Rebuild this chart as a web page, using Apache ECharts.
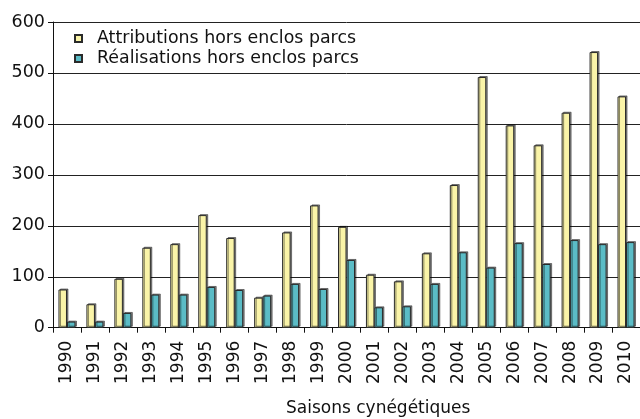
<!DOCTYPE html>
<html>
<head>
<meta charset="utf-8">
<script src="https://cdn.jsdelivr.net/npm/echarts@6/dist/echarts.min.js"></script>
<style>
  html, body { margin: 0; padding: 0; background: #fff; }
  #chart { width: 640px; height: 419px; }
</style>
</head>
<body>
<div id="chart"></div>
<script>
const seasons = ['1990', '1991', '1992', '1993', '1994', '1995', '1996', '1997', '1998', '1999', '2000',
  '2001', '2002', '2003', '2004', '2005', '2006', '2007', '2008', '2009', '2010'];
const attributions = [75, 46, 96, 157, 164, 221, 176, 59, 187, 240, 198,
  104, 91, 146, 280, 492, 397, 358, 422, 541, 454];
const realisations = [12, 12, 29, 65, 65, 80, 74, 63, 86, 76, 133,
  40, 42, 86, 148, 118, 166, 125, 172, 164, 168];
const yTicks = [0, 100, 200, 300, 400, 500, 600];

const font = 'DejaVu Sans';
const barShadow = {
  borderColor: '#2a2a2a',
  borderWidth: 1,
  shadowColor: 'rgba(0,0,0,0.45)',
  shadowOffsetX: 1.5,
  shadowOffsetY: -1,
  shadowBlur: 0
};

const chart = echarts.init(document.getElementById('chart'));
chart.setOption({
  backgroundColor: '#fff',
  animation: false,
  textStyle: {fontFamily: font},
  grid: {left: 53, top: 22, width: 596, height: 305.7, containLabel: false},
  legend: {
    orient: 'vertical',
    left: 74,
    top: 30,
    padding: 0,
    itemGap: 3,
    itemWidth: 7,
    itemHeight: 7,
    icon: 'rect',
    textStyle: {fontFamily: font, fontSize: 17.4, color: '#111', padding: [0, 0, 0, 10]},
    data: ['Attributions hors enclos parcs', 'Réalisations hors enclos parcs']
  },
  graphic: [{
    type: 'text',
    left: 286,
    top: 400,
    style: {text: 'Saisons cynégétiques', fontFamily: font, fontSize: 17, fill: '#111'}
  }],
  xAxis: {
    type: 'category',
    data: seasons,
    axisLine: {lineStyle: {color: '#111', width: 1}},
    axisTick: {show: true, length: 5, lineStyle: {color: '#111'}},
    axisLabel: {rotate: 90, margin: 13, fontSize: 17, color: '#111', fontFamily: font}
  },
  yAxis: {
    type: 'value',
    min: yTicks[0],
    max: yTicks[yTicks.length - 1],
    interval: 100,
    axisLine: {show: true, lineStyle: {color: '#111', width: 1}},
    axisTick: {show: true, length: 5, lineStyle: {color: '#111'}},
    axisLabel: {fontSize: 17.5, margin: 8, color: '#111', fontFamily: font},
    splitLine: {lineStyle: {color: '#222', width: 1}}
  },
  series: [
    {
      name: 'Attributions hors enclos parcs',
      type: 'bar',
      data: attributions,
      barWidth: 8.5,
      barGap: '0%',
      itemStyle: Object.assign({color: '#faf4a8'}, barShadow)
    },
    {
      name: 'Réalisations hors enclos parcs',
      type: 'bar',
      data: realisations,
      barWidth: 8.5,
      barGap: '0%',
      itemStyle: Object.assign({color: '#5bbcc6'}, barShadow)
    }
  ]
});
</script>
</body>
</html>
